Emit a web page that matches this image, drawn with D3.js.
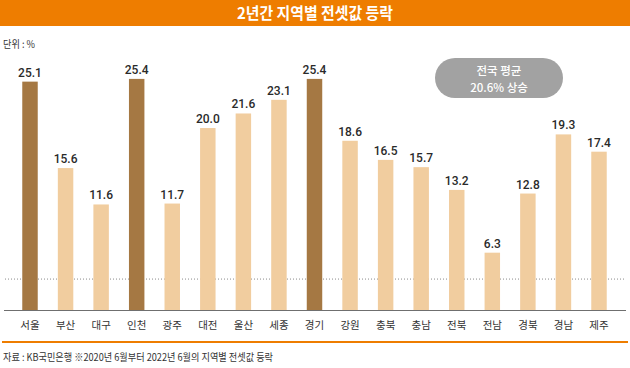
<!DOCTYPE html>
<html>
<head>
<meta charset="utf-8">
<script src="https://cdn.jsdelivr.net/npm/d3@7"></script>
<style>
  html, body { margin: 0; padding: 0; background: #fff; }
  svg { display: block; }
</style>
</head>
<body>
<svg id="chart" width="630" height="368"></svg>
<script>
// ---- data ----
const categories = ["서울","부산","대구","인천","광주","대전","울산","세종","경기","강원","충북","충남","전북","전남","경북","경남","제주"];
const values = [25.1, 15.6, 11.6, 25.4, 11.7, 20.0, 21.6, 23.1, 25.4, 18.6, 16.5, 15.7, 13.2, 6.3, 12.8, 19.3, 17.4];
const highlighted = ["서울","인천","경기"];
const nationalAverage = 20.6;
const guideValue = 3.4;
const titleText = "2년간 지역별 전셋값 등락";
const unitText = "단위 : %";
const sourceText = "자료 : KB국민은행 ※2020년 6월부터 2022년 6월의 지역별 전셋값 등락";

// ---- drawing ----
const svg = d3.select("#chart");
const W = 630;
const KR = "'Noto Sans CJK KR', 'Noto Sans', sans-serif";
const NUM = "Roboto, 'Liberation Sans', sans-serif";
const orange = "#ee7d00";

// title bar
svg.append("rect").attr("x", 0).attr("y", 0).attr("width", W).attr("height", 26).attr("fill", orange);
svg.append("text").attr("x", 315).attr("y", 19).attr("text-anchor", "middle")
  .attr("fill", "#fff").attr("font-family", KR).attr("font-weight", 700).attr("font-size", 16)
  .attr("textLength", 156).attr("lengthAdjust", "spacingAndGlyphs")
  .text(titleText);

// unit
svg.append("text").attr("x", 3).attr("y", 48).attr("fill", "#333")
  .attr("font-family", KR).attr("font-size", 10.5)
  .attr("textLength", 32).attr("lengthAdjust", "spacingAndGlyphs")
  .text(unitText);

// scales
const x = d3.scaleBand().domain(categories).range([12.22, 616.78]).paddingInner(0.565).paddingOuter(0.2825);
const y = d3.scaleLinear().domain([0, 25.4]).range([310, 78.9]);

// dotted guide line
svg.append("line").attr("x1", 5).attr("x2", 625).attr("y1", y(guideValue)).attr("y2", y(guideValue))
  .attr("stroke", "#8a8a8a").attr("stroke-width", 1).attr("stroke-dasharray", "1,2");

// bars
const data = categories.map((c, i) => ({ c, v: values[i] }));
svg.append("g").selectAll("rect").data(data).join("rect")
  .attr("x", d => x(d.c)).attr("width", x.bandwidth())
  .attr("y", d => y(d.v)).attr("height", d => y(0) - y(d.v))
  .attr("fill", d => highlighted.includes(d.c) ? "#a57843" : "#f1cd9f");

// value labels
svg.append("g").selectAll("text").data(data).join("text")
  .attr("x", d => x(d.c) + x.bandwidth() / 2).attr("y", d => y(d.v) - 5)
  .attr("text-anchor", "middle").attr("fill", "#2a2a2a")
  .attr("font-family", NUM).attr("font-weight", 500).attr("font-size", 12)
  .text(d => d.v.toFixed(1));

// baseline axis
const axis = d3.axisBottom(x).tickSize(0).tickPadding(12);
const ag = svg.append("g").attr("transform", `translate(0,${y(0)})`).call(axis);
ag.select(".domain").remove();
ag.selectAll("text").attr("font-family", KR).attr("font-size", 10.5).attr("fill", "#333");
svg.append("line").attr("x1", 4).attr("x2", 626).attr("y1", y(0) + 0.5).attr("y2", y(0) + 0.5)
  .attr("stroke", "#6f6f6f").attr("stroke-width", 1);

// national average badge
const badge = svg.append("g");
badge.append("rect").attr("x", 435).attr("y", 58).attr("width", 128).attr("height", 40).attr("rx", 20)
  .attr("fill", "#a2a2a2");
badge.append("text").attr("x", 499).attr("y", 75).attr("text-anchor", "middle").attr("fill", "#fff")
  .attr("font-family", KR).attr("font-size", 11.5).attr("font-weight", 500)
  .text("전국 평균");
badge.append("text").attr("x", 499).attr("y", 91.5).attr("text-anchor", "middle").attr("fill", "#fff")
  .attr("font-family", KR).attr("font-size", 11.5).attr("font-weight", 500)
  .text(`${nationalAverage}% 상승`);

// bottom orange rule
svg.append("line").attr("x1", 2).attr("x2", 628).attr("y1", 342).attr("y2", 342)
  .attr("stroke", orange).attr("stroke-width", 2);

// source
svg.append("text").attr("x", 3).attr("y", 361).attr("fill", "#333")
  .attr("font-family", KR).attr("font-size", 10)
  .attr("textLength", 270).attr("lengthAdjust", "spacingAndGlyphs")
  .text(sourceText);
</script>
</body>
</html>
